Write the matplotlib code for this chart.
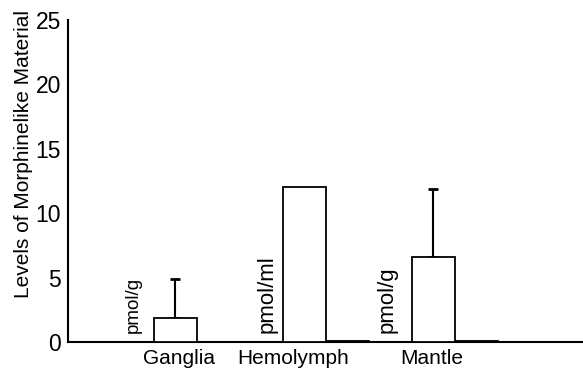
import matplotlib.pyplot as plt
import numpy as np

plt.rcParams['font.family'] = ['Liberation Sans', 'DejaVu Sans']

categories = ['Ganglia', 'Hemolymph', 'Mantle']
levels = [1.85, 12.0, 6.6]
err_up = [3.05, 0.0, 5.3]
units = ['pmol/g', 'pmol/ml', 'pmol/g']
small = [0.0, 0.15, 0.15]

x = np.arange(len(categories))
w = 0.333
unit_dx = [-0.33, -0.29, -0.36]
unit_fs = [13.5, 16, 16]

fig = plt.figure(figsize=(5.83, 3.70), dpi=100)
ax = fig.add_axes([0.1166, 0.0757, 0.8834, 0.8703])

ax.bar(x, levels, w, color='white', edgecolor='black', linewidth=1.3, zorder=3)
ax.bar(x + w, small, w, color='black', edgecolor='black', linewidth=0.6, zorder=3)
for i in range(len(x)):
    if err_up[i] > 0:
        ax.errorbar(x[i], levels[i], yerr=[[0], [err_up[i]]], fmt='none',
                    ecolor='black', elinewidth=1.5, capsize=3.5, capthick=2, zorder=2)
    ax.text(x[i] + unit_dx[i], 0.7, units[i], rotation=90, ha='center', va='bottom',
            fontsize=unit_fs[i])

ax.set_xlim(-0.833, 3.159)
ax.set_ylim(0, 25)
ax.set_yticks([0, 5, 10, 15, 20, 25])
ax.set_xticks(x + np.array([0.03, -0.09, -0.01]))
ax.set_xticklabels(categories, fontsize=15)
ax.tick_params(axis='x', length=0, pad=5)
ax.tick_params(axis='y', length=0, pad=5, labelsize=16.5)
ax.set_ylabel('Levels of Morphinelike Material', fontsize=15)
ax.yaxis.set_label_coords(-0.068, 0.584)
ax.spines['top'].set_visible(False)
ax.spines['right'].set_visible(False)
ax.spines['left'].set_linewidth(1.5)
ax.spines['bottom'].set_linewidth(1.5)

plt.savefig('out.png', dpi=100)
